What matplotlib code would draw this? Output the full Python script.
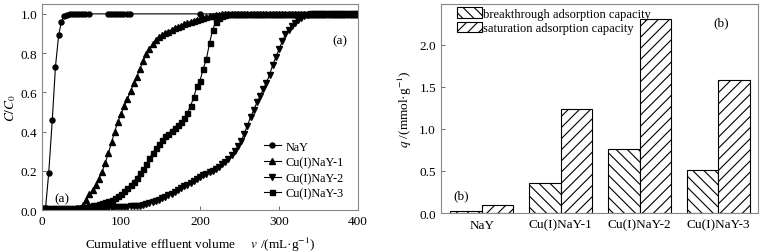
import numpy as np
import matplotlib.pyplot as plt

plt.rcParams['font.family'] = ['Liberation Serif', 'DejaVu Serif']
plt.rcParams['mathtext.fontset'] = 'stix'
plt.rcParams['hatch.linewidth'] = 0.8

# breakthrough curves, C/C0 vs cumulative effluent volume (mL/g)
vol = np.arange(0, 401, 4)

nay_v = [0, 1, 4.5, 8.5, 13, 17, 21, 24.5, 28, 31, 35, 39, 43, 47, 51, 55, 59,
         83, 87, 91, 95, 99, 103, 107, 111, 200, 400]
nay_c = [0.0, 0.01, 0.01, 0.19, 0.46, 0.73, 0.89, 0.96, 0.99, 0.995, 1.0, 1.0, 1.0, 1.0, 1.0, 1.0, 1.0,
         1.0, 1.0, 1.0, 1.0, 1.0, 1.0, 1.0, 1.0, 1.0, 1.0]

cu1_c = [0.0, 0.005, 0.005, 0.005, 0.005, 0.005, 0.005, 0.005, 0.005, 0.005,
         0.005, 0.008, 0.012, 0.025, 0.05, 0.08, 0.10, 0.13, 0.16, 0.195,
         0.24, 0.29, 0.345, 0.40, 0.45, 0.49, 0.53, 0.565, 0.605, 0.645,
         0.68, 0.72, 0.76, 0.795, 0.82, 0.845, 0.865, 0.88, 0.89, 0.90,
         0.91, 0.92, 0.93, 0.935, 0.94, 0.95, 0.955, 0.96, 0.965, 0.97,
         0.975, 0.98, 0.985, 0.99, 0.99, 0.993, 0.995, 0.997, 0.998, 0.999] + [1.0] * 41

cu2_c = [0.0] + [0.004] * 15 + [
         0.005, 0.006, 0.007, 0.008, 0.01, 0.011, 0.012, 0.013, 0.014, 0.015,
         0.016, 0.017, 0.018, 0.019, 0.02, 0.022, 0.026, 0.03, 0.035, 0.04,
         0.046, 0.052, 0.06, 0.067, 0.075, 0.083, 0.092, 0.10, 0.11, 0.12,
         0.13, 0.14, 0.15, 0.16, 0.17, 0.178, 0.186, 0.194, 0.20, 0.21,
         0.22, 0.232, 0.245, 0.26, 0.28, 0.30, 0.325, 0.35, 0.39, 0.43,
         0.475, 0.51, 0.55, 0.58, 0.615, 0.65, 0.69, 0.74, 0.78, 0.82,
         0.86, 0.895, 0.92, 0.94, 0.955, 0.97, 0.98, 0.988, 0.994, 0.998] + [1.0] * 15

cu3_c = [0.0] + [0.006] * 10 + [
         0.008, 0.01, 0.013, 0.017, 0.02, 0.024, 0.028, 0.032, 0.036, 0.04,
         0.045, 0.052, 0.06, 0.07, 0.08, 0.095, 0.11, 0.13, 0.145, 0.165,
         0.19, 0.21, 0.235, 0.265, 0.29, 0.315, 0.335, 0.355, 0.375, 0.39,
         0.405, 0.42, 0.435, 0.45, 0.47, 0.495, 0.53, 0.575, 0.63, 0.66,
         0.72, 0.77, 0.85, 0.92, 0.96, 0.98, 0.99, 0.995, 0.998] + [1.0] * 41

# adsorption capacities, mmol/g
samples = ['NaY', 'Cu(I)NaY-1', 'Cu(I)NaY-2', 'Cu(I)NaY-3']
q_break = [0.03, 0.36, 0.76, 0.51]
q_sat = [0.09, 1.24, 2.30, 1.58]

fig = plt.figure(figsize=(7.64, 2.53), dpi=100)

# ---- (a) breakthrough curves
ax1 = fig.add_axes([0.055, 0.166, 0.4137, 0.814])
ax1.plot(nay_v, nay_c, 'k-', marker='o', ms=3.6, lw=0.8, label='NaY',
         markevery=list(range(len(nay_v) - 1)))
ax1.plot(vol, cu1_c, 'k-', marker='^', ms=3.8, lw=0.8, label='Cu(I)NaY-1')
ax1.plot(vol, cu2_c, 'k-', marker='v', ms=3.8, lw=0.8, label='Cu(I)NaY-2')
ax1.plot(vol, cu3_c, 'k-', marker='s', ms=3.6, lw=0.8, label='Cu(I)NaY-3')
ax1.set_xlim(0, 400)
ax1.set_ylim(0, 1.05)
ax1.set_xticks([0, 100, 200, 300, 400])
ax1.set_yticks([0.0, 0.2, 0.4, 0.6, 0.8, 1.0])
ax1.set_yticklabels(['%.1f' % t for t in [0.0, 0.2, 0.4, 0.6, 0.8, 1.0]])
ax1.tick_params(direction='in', length=3, width=0.6, labelsize=9.5, color='#555555')
ax1.set_xlabel('Cumulative effluent volume     $v$ /(mL·g$^{-1}$)', fontsize=9.5, labelpad=6)
ax1.set_ylabel('$C/C_0$', fontsize=9.5, labelpad=2)
for s in ax1.spines.values():
    s.set_color('#888888')
    s.set_linewidth(0.8)
ax1.text(0.965, 0.81, '(a)', transform=ax1.transAxes, fontsize=9.5, ha='right')
ax1.text(0.04, 0.04, '(a)', transform=ax1.transAxes, fontsize=9.5)
ax1.legend(loc='lower right', bbox_to_anchor=(0.975, 0.02), frameon=False, fontsize=8.8,
           handlelength=1.4, handletextpad=0.4, labelspacing=0.3, borderpad=0)

# ---- (b) capacities
ax2 = fig.add_axes([0.577, 0.154, 0.415, 0.826])
x = np.arange(len(samples))
ax2.bar(x - 0.2, q_break, 0.4, facecolor='white', edgecolor='black', lw=0.8,
        hatch='\\\\\\', label='breakthrough adsorption capacity')
ax2.bar(x + 0.2, q_sat, 0.4, facecolor='white', edgecolor='black', lw=0.8,
        hatch='///', label='saturation adsorption capacity')
ax2.set_xlim(-0.52, 3.5)
ax2.set_ylim(0, 2.48)
ax2.set_xticks(x)
ax2.set_xticklabels(samples)
ax2.set_yticks([0.0, 0.5, 1.0, 1.5, 2.0])
ax2.set_yticklabels(['%.1f' % t for t in [0.0, 0.5, 1.0, 1.5, 2.0]])
ax2.tick_params(axis='y', direction='in', length=3, width=0.6, labelsize=9.5, color='#555555')
ax2.tick_params(axis='x', length=0, labelsize=9.5, pad=4)
ax2.set_ylabel('$q$ /(mmol·g$^{-1}$)', fontsize=9.5, labelpad=4)
for s in ax2.spines.values():
    s.set_color('#888888')
    s.set_linewidth(0.8)
ax2.text(0.86, 0.9, '(b)', transform=ax2.transAxes, fontsize=9.5)
ax2.text(0.04, 0.07, '(b)', transform=ax2.transAxes, fontsize=9.5)
ax2.legend(loc='upper left', bbox_to_anchor=(0.03, 1.015), frameon=False, fontsize=9,
           handlelength=2.0, handleheight=0.9, handletextpad=0.1, labelspacing=0.15,
           borderpad=0)

fig.savefig('out.png', dpi=100)
